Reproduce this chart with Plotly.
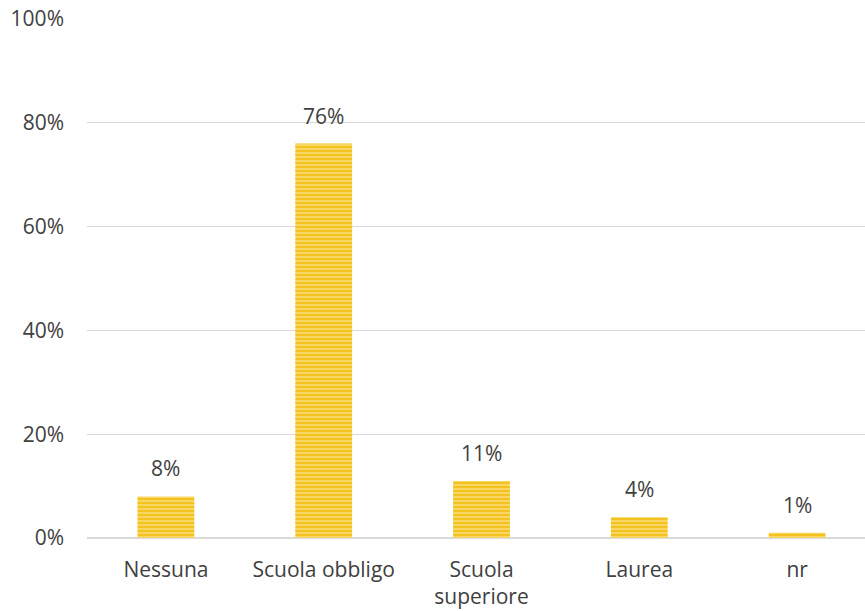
import plotly.graph_objects as go

categories = ["Nessuna", "Scuola obbligo", "Scuola<br>superiore", "Laurea", "nr"]
shares = [0.08, 0.76, 0.11, 0.04, 0.01]
labels = ["8%", "76%", "11%", "4%", "1%"]
tick_vals = [0, 0.2, 0.4, 0.6, 0.8, 1.0]
tick_text = ["0%", "20%", "40%", "60%", "80%", "100%"]

positions = list(range(len(categories)))
text_color = "#404040"
font_family = "'Open Sans', Lato, sans-serif"
font_size = 21

fig = go.Figure(
    go.Bar(
        x=positions,
        y=shares,
        width=0.36,
        marker=dict(
            color="#F4C21F",
            line=dict(width=0),
            pattern=dict(shape="-", fgcolor="#FFF6C8", bgcolor="#F4C21F",
                         size=4, solidity=0.4),
        ),
    )
)

# value labels above each bar
for xp, val, lab in zip(positions, shares, labels):
    fig.add_annotation(
        x=xp, y=val, text=lab, showarrow=False,
        yanchor="bottom", yshift=12,
        font=dict(size=font_size, color=text_color, family=font_family),
    )

fig.update_layout(
    width=865,
    height=611,
    margin=dict(l=87, r=0, t=19, b=73),
    plot_bgcolor="white",
    paper_bgcolor="white",
    font=dict(family=font_family, size=font_size, color=text_color),
    showlegend=False,
)
fig.update_xaxes(
    range=[-0.5, 4.43],
    tickvals=positions,
    ticktext=categories,
    showgrid=False,
    showline=False,
    zeroline=False,
    ticks="",
    ticklabelstandoff=17,
    tickfont=dict(size=font_size, color=text_color),
)
fig.update_yaxes(
    range=[0, 1.0],
    tickvals=tick_vals,
    ticktext=tick_text,
    showgrid=True,
    gridcolor="#D9D9D9",
    gridwidth=1,
    zeroline=True,
    zerolinecolor="#D9D9D9",
    zerolinewidth=2,
    showline=False,
    ticks="",
    ticklabelstandoff=22,
    tickfont=dict(size=font_size, color=text_color),
)

fig.write_html("out.html")
